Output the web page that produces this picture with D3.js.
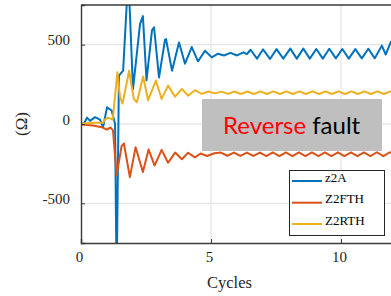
<!DOCTYPE html>
<html><head><meta charset="utf-8">
<script src="https://cdn.jsdelivr.net/npm/d3@7"></script>
<style>body{margin:0;background:#fff;}svg{display:block;}</style>
</head><body>
<svg id="c" width="391" height="296"></svg>
<script>
// ---- data ----
const seriesNames = ["z2A", "Z2FTH", "Z2RTH"];
const xTicks = [0, 5, 10];
const yTicks = [-500, 0, 500];
const yTickLabels = ["-500", "0", "500"];

const z2aT = [0,0.12,0.23,0.35,0.54,0.73,0.85,1.0,1.18,1.31,1.37,1.46,1.62,1.78,1.86,2.0,2.27,2.38,2.52,2.73,2.81,3.0,3.23,3.27,3.5,3.77,4.0,4.26,4.5,4.77,5.03,5.27,5.5,5.75,6.0,6.25,6.38,6.52,6.77,7.0,7.27,7.52,7.78,8.05,8.3,8.55,8.8,9.05,9.3,9.55,9.8,10.05,10.3,10.55,10.8,11.05,11.3,11.57,11.72,11.92,12.0];
const z2aV = [0,5,40,20,43,28,-20,105,85,0,-1000,305,336,820,780,220,630,680,275,590,609,293,530,535,336,514,380,485,395,462,420,443,432,448,432,452,440,468,412,470,410,472,412,475,412,475,412,473,412,474,414,473,412,472,414,474,414,494,438,518,490];

const z2fT = [0,0.46,0.8,0.99,1.14,1.23,1.37,1.56,1.65,1.88,2.1,2.38,2.6,2.83,3.1,3.35,3.62,3.88,4.12,4.38,4.6,4.85,5.13,5.38,5.63,5.88,6.13,6.38,6.63,6.88,7.13,7.38,7.63,7.88,8.13,8.38,8.63,8.88,9.13,9.38,9.63,9.88,10.13,10.38,10.63,10.88,11.13,11.38,11.63,11.88,12.0];
const z2fV = [-3,-9,-20,-35,-22,-41,-324,-140,-123,-335,-146,-303,-160,-262,-163,-244,-180,-222,-181,-210,-186,-202,-184,-180,-200,-180,-201,-180,-201,-180,-202,-179,-202,-179,-202,-179,-202,-179,-202,-179,-202,-179,-202,-179,-202,-179,-202,-178,-202,-178,-190];

const z2rT = [0,0.5,0.85,0.92,1.04,1.22,1.4,1.5,1.6,1.85,2.03,2.15,2.39,2.58,2.88,3.1,3.35,3.62,3.88,4.12,4.38,4.65,4.9,5.15,5.4,5.65,5.9,6.15,6.4,6.65,6.9,7.15,7.4,7.65,7.9,8.15,8.4,8.65,8.9,9.15,9.4,9.65,9.9,10.15,10.4,10.65,10.9,11.15,11.4,11.65,11.9,12.0];
const z2rV = [1,8,8,28,40,28,326,169,129,336,158,137,299,150,274,158,242,172,221,178,213,190,205,193,204,190,205,189,205,189,206,189,206,189,206,189,206,189,206,189,206,189,206,189,206,189,206,189,206,189,206,198];

// ---- layout ----
const svg = d3.select("#c");
const L = 81, R = 393, T = 5, B = 243;
const x = d3.scaleLinear().domain([0, 12]).range([L, R]);
const y = d3.scaleLinear().domain([-750, 750]).range([B, T]);
const colors = ["#0072BD", "#D95319", "#EDB120"];
const serif = "'Liberation Serif','Times New Roman',serif";
const axisCol = "#3a3a3a";

// grid
const g = svg.append("g");
g.selectAll("line.gy").data(yTicks).enter().append("line")
  .attr("x1", L).attr("x2", R).attr("y1", d => y(d)).attr("y2", d => y(d))
  .attr("stroke", "#dedede").attr("stroke-width", 1);
g.selectAll("line.gx").data(xTicks.filter(d => d > 0)).enter().append("line")
  .attr("y1", T).attr("y2", B).attr("x1", d => x(d)).attr("x2", d => x(d))
  .attr("stroke", "#dedede").attr("stroke-width", 1);

// clip
svg.append("defs").append("clipPath").attr("id", "clip")
  .append("rect").attr("x", L).attr("y", T).attr("width", R - L).attr("height", B - T);

const line = d3.line().x(d => x(d[0])).y(d => y(d[1]));
const data = [
  d3.zip(z2aT, z2aV),
  d3.zip(z2fT, z2fV),
  d3.zip(z2rT, z2rV)
];
const lg = svg.append("g").attr("clip-path", "url(#clip)");
data.forEach((d, i) => {
  lg.append("path").datum(d).attr("d", line)
    .attr("fill", "none").attr("stroke", colors[i]).attr("stroke-width", 2)
    .attr("stroke-linejoin", "round");
});

// axes
const ax = svg.append("g");
const yAxis = d3.axisLeft(y).tickValues(yTicks).tickSize(-4).tickPadding(11)
  .tickFormat((d, i) => yTickLabels[i]);
const ya = ax.append("g").attr("transform", `translate(${L},0)`).call(yAxis);
ya.select(".domain").attr("stroke", axisCol).attr("stroke-width", 1.4);
ya.selectAll(".tick line").attr("stroke", axisCol);
ya.selectAll(".tick text").attr("dy", "0.02em").attr("font-family", serif).attr("font-size", 15).attr("fill", "#262626");

const xAxis = d3.axisBottom(x).tickValues(xTicks).tickSize(-4).tickPadding(0);
const xa = ax.append("g").attr("transform", `translate(0,${B})`).call(xAxis);
xa.select(".domain").attr("stroke", axisCol).attr("stroke-width", 1.4);
xa.selectAll(".tick line").attr("stroke", axisCol);
xa.selectAll(".tick text").attr("y", 19).attr("dy", 0).attr("dx", -2)
  .attr("font-family", serif).attr("font-size", 15).attr("fill", "#262626");

// top border
ax.append("line").attr("x1", L).attr("x2", R).attr("y1", T).attr("y2", T)
  .attr("stroke", axisCol).attr("stroke-width", 1.4);

// axis labels
svg.append("text").attr("x", 229.5).attr("y", 288).attr("text-anchor", "middle")
  .attr("font-family", serif).attr("font-size", 16.5).attr("fill", "#262626").text("Cycles");
svg.append("text").attr("transform", "translate(27,124) rotate(-90)").attr("text-anchor", "middle")
  .attr("font-family", serif).attr("font-size", 17).attr("fill", "#262626").text("(Ω)");

// annotation box
svg.append("rect").attr("x", 202).attr("y", 99).attr("width", 180).attr("height", 52).attr("fill", "#bfbfbf");
const ann = svg.append("text").attr("x", 223).attr("y", 133.5)
  .attr("font-family", "Lato, 'Open Sans', sans-serif").attr("font-size", 24);
ann.append("tspan").attr("fill", "#ff0000").text("Reverse");
ann.append("tspan").attr("fill", "#000").text(" fault");

// legend
const leg = svg.append("g");
leg.append("rect").attr("x", 289.5).attr("y", 170.5).attr("width", 95).attr("height", 65)
  .attr("fill", "#fff").attr("stroke", "#262626").attr("stroke-width", 1);
const legY = [181, 202.7, 224];
seriesNames.forEach((n, i) => {
  leg.append("line").attr("x1", 292).attr("x2", 322).attr("y1", legY[i]).attr("y2", legY[i])
    .attr("stroke", colors[i]).attr("stroke-width", 2);
  leg.append("text").attr("x", 325).attr("y", legY[i] + 0.7)
    .attr("font-family", serif).attr("font-size", 13).attr("fill", "#000").text(n);
});
</script>
</body></html>
